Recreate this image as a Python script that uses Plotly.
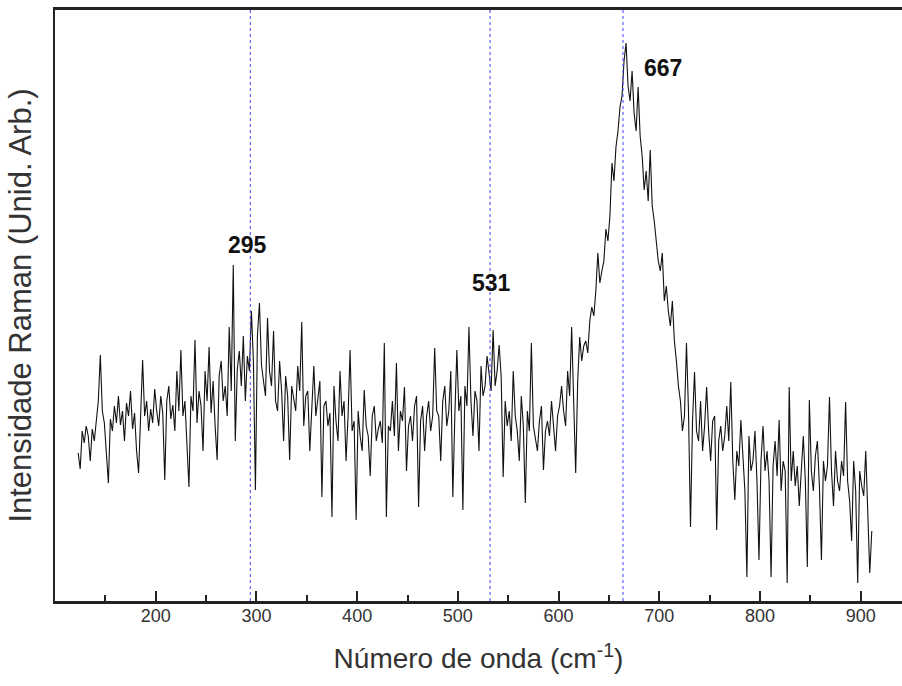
import plotly.graph_objects as go

# Raman spectrum sampled every 2 cm-1 starting at 123 cm-1
wn_start = 123
wn_step = 2
intensity = [
    148, 132, 170, 158, 175, 165, 140, 172, 160, 180,   # 123
    200, 246, 190, 178, 150, 118, 182, 170, 195, 178,   # 143
    205, 176, 190, 160, 198, 185, 210, 172, 188, 150,   # 163
    128, 195, 241, 185, 200, 170, 192, 178, 212, 190,   # 183
    175, 205, 188, 121, 200, 215, 182, 196, 170, 230,   # 203
    190, 251, 185, 200, 160, 114, 205, 190, 261, 178,   # 223
    210, 195, 150, 230, 200, 254, 188, 220, 175, 141,   # 243
    225, 240, 200, 215, 185, 274, 210, 336, 160, 232,   # 263
    250, 215, 265, 200, 245, 230, 290, 240, 111, 265,   # 283
    298, 236, 220, 205, 283, 230, 215, 270, 200, 190,   # 303
    240, 210, 160, 225, 205, 141, 215, 200, 190, 235,   # 323
    210, 279, 175, 205, 210, 150, 195, 235, 185, 200,   # 343
    220, 104, 195, 200, 175, 188, 84, 215, 180, 160,    # 363
    230, 185, 200, 140, 185, 251, 170, 180, 81, 190,    # 383
    165, 150, 211, 175, 165, 125, 185, 195, 160, 172,   # 403
    180, 158, 258, 84, 175, 170, 200, 165, 238, 150,    # 423
    190, 180, 214, 130, 175, 185, 160, 195, 205, 94,    # 443
    180, 195, 150, 185, 200, 170, 185, 253, 190, 185,   # 463
    140, 200, 215, 175, 190, 230, 104, 185, 251, 190,   # 483
    205, 91, 215, 195, 274, 200, 165, 210, 200, 150,    # 503
    235, 205, 215, 245, 225, 210, 271, 215, 230, 256,   # 523
    225, 124, 200, 175, 190, 160, 230, 185, 170, 140,   # 543
    205, 175, 98, 190, 170, 258, 175, 160, 150, 180,    # 563
    195, 131, 170, 180, 165, 200, 175, 150, 185, 195,   # 583
    215, 190, 175, 230, 205, 274, 200, 128, 220, 264,   # 603
    240, 255, 260, 248, 280, 294, 285, 310, 348, 318,   # 623
    330, 340, 372, 360, 385, 438, 420, 454, 470, 494,   # 643
    505, 540, 558, 515, 500, 530, 488, 470, 514, 465,   # 663
    445, 411, 430, 400, 451, 395, 380, 360, 340, 330,   # 683
    348, 300, 315, 290, 275, 300, 260, 240, 215, 200,   # 703
    170, 185, 258, 190, 74, 180, 229, 170, 160, 200,    # 723
    150, 175, 214, 170, 140, 180, 185, 71, 160, 175,    # 743
    150, 165, 195, 160, 219, 140, 101, 150, 135, 181,   # 763
    150, 110, 24, 165, 130, 140, 170, 120, 41, 140,     # 783
    175, 130, 150, 120, 24, 135, 160, 125, 181, 110,    # 803
    140, 130, 18, 214, 120, 150, 115, 135, 95, 125,     # 823
    165, 120, 34, 201, 130, 110, 145, 160, 115, 41,     # 843
    140, 120, 135, 204, 130, 95, 150, 120, 110, 140,    # 863
    125, 199, 120, 100, 60, 140, 110, 18, 130, 115,     # 883
    105, 150, 95, 28, 70,                               # 903
]
wavenumber = [wn_start + wn_step * i for i in range(len(intensity))]

# marked peaks
peak_lines = [294, 532, 664]
peak_labels = ["295", "531", "667"]
label_x = [291, 533, 704]
label_y = [356, 318, 533]

x_ticks = [200, 300, 400, 500, 600, 700, 800, 900]

FONT = "Liberation Sans, Arial, sans-serif"

fig = go.Figure()
fig.add_trace(go.Scatter(
    x=wavenumber, y=intensity, mode="lines",
    line=dict(color="#111111", width=1.1), showlegend=False,
))

for px in peak_lines:
    fig.add_shape(type="line", x0=px, x1=px, y0=0, y1=1, xref="x", yref="paper",
                  line=dict(color="rgba(70,70,255,0.85)", width=1.2, dash="dot"))

for lx, ly, lt in zip(label_x, label_y, peak_labels):
    fig.add_annotation(x=lx, y=ly, text="<b>" + lt + "</b>", showarrow=False,
                       font=dict(family=FONT, size=23, color="#111"))

fig.update_layout(
    width=902, height=686,
    margin=dict(l=55, r=0, t=10, b=85),
    paper_bgcolor="white", plot_bgcolor="white",
    font=dict(family=FONT, color="#333"),
    xaxis=dict(
        range=[100, 941], showgrid=False, zeroline=False,
        showline=True, linecolor="#222", linewidth=2.5, mirror=True,
        ticks="inside", ticklen=10, tickwidth=1.5, tickcolor="#222",
        tickvals=x_ticks, tickfont=dict(size=18, color="#333"),
        ticklabelstandoff=-3,
        minor=dict(ticks="inside", ticklen=6, tickwidth=1.5, tickcolor="#222", dtick=50, tick0=150),
        title=dict(text="Número de onda (cm<sup>-1</sup>)", font=dict(size=28, color="#333"), standoff=24),
    ),
    yaxis=dict(
        range=[0, 591], showgrid=False, zeroline=False,
        showline=True, linecolor="#222", linewidth=2,
        showticklabels=False, ticks="",
        title=dict(text="Intensidade Raman (Unid. Arb.)", font=dict(size=31, color="#333"), standoff=12),
    ),
)

fig.write_html("out.html")
